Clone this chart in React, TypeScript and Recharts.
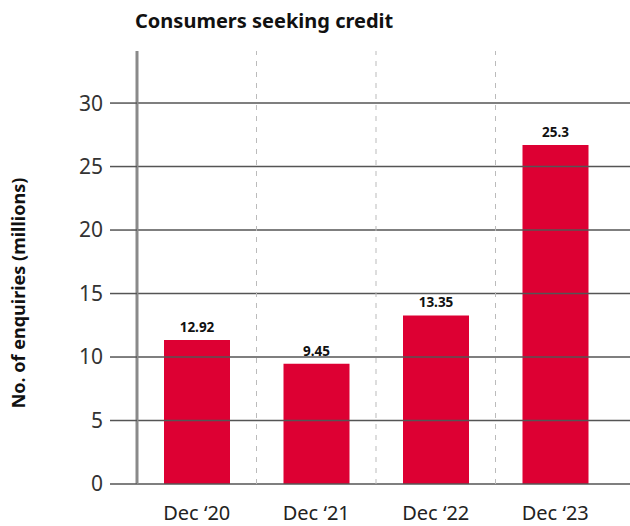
import { BarChart, Bar, XAxis, YAxis, ReferenceLine, LabelList } from 'recharts';

const categories = ["Dec ‘20", "Dec ‘21", "Dec ‘22", "Dec ‘23"];
// bar heights as drawn in the source picture
const enquiries = [11.35, 9.47, 13.27, 26.7];
// value labels printed above the bars
const valueLabels = ["12.92", "9.45", "13.35", "25.3"];
const yTicks = [0, 5, 10, 15, 20, 25, 30];
const dividers = [1, 2, 3];

const data = categories.map((name, i) => ({
    name,
    value: enquiries[i],
    label: valueLabels[i],
    pos: i + 0.5,
}));

const font = "'Noto Sans', sans-serif";

export default function App() {
    return (
        <div style={{ position: 'absolute', left: 0, top: 0, width: 630, height: 526, fontFamily: font }}>
            <div style={{ position: 'absolute', left: 135, top: 7, fontSize: 20, fontWeight: 700, color: '#111', whiteSpace: 'nowrap' }}>
                Consumers seeking credit
            </div>
            <div
                style={{
                    position: 'absolute', left: 18, top: 293,
                    transform: 'translate(-50%, -50%) rotate(-90deg)',
                    fontSize: 18, fontWeight: 700, color: '#111', whiteSpace: 'nowrap',
                }}
            >
                No. of enquiries (millions)
            </div>
            <BarChart
                width={630}
                height={526}
                data={data}
                margin={{ top: 51, right: 0, left: 0, bottom: 2 }}
                barSize={66}
            >
                <XAxis
                    dataKey="name"
                    padding={{ left: 0, right: 15 }}
                    axisLine={false}
                    tickLine={false}
                    tickSize={0}
                    tickMargin={22}
                    height={40}
                    tick={{ fill: '#222', fontSize: 20, fontFamily: font }}
                />
                <XAxis
                    xAxisId="div"
                    dataKey="pos"
                    type="number"
                    domain={[0, 4]}
                    allowDataOverflow
                    padding={{ left: 0, right: 15 }}
                    hide
                />
                <YAxis
                    width={137}
                    domain={[0, 34.1]}
                    allowDataOverflow
                    ticks={yTicks}
                    interval={0}
                    axisLine={{ stroke: '#8a8a8a', strokeWidth: 3 }}
                    tickLine={{ stroke: '#555', strokeWidth: 1.5 }}
                    tickSize={27}
                    tickMargin={7}
                    tick={{ fill: '#333', fontSize: 21, fontFamily: font }}
                />
                {yTicks.map((t) => (
                    <ReferenceLine key={'y' + t} y={t} stroke="#555" strokeWidth={1.5} />
                ))}
                {dividers.map((d) => (
                    <ReferenceLine key={'x' + d} x={d} xAxisId="div" stroke="#bbb" strokeDasharray="5 6" strokeWidth={1} />
                ))}
                <Bar dataKey="value" fill="#dd0033" isAnimationActive={false}>
                    <LabelList
                        dataKey="label"
                        position="top"
                        offset={8}
                        style={{ fontSize: 13.5, fontWeight: 700, fill: '#111', fontFamily: font }}
                    />
                </Bar>
            </BarChart>
        </div>
    );
}
